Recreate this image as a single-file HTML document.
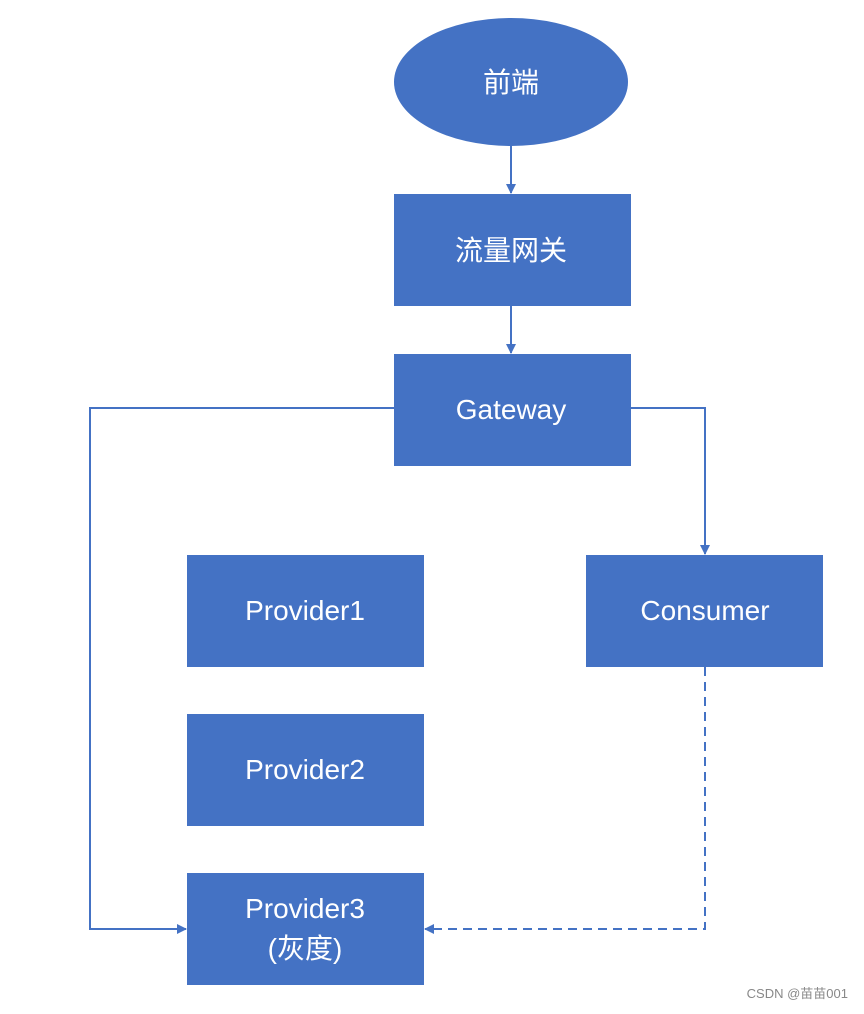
<!DOCTYPE html>
<html><head><meta charset="utf-8"><style>
html,body{margin:0;padding:0;background:#fff;}
svg text{font-family:"Liberation Sans","Noto Sans CJK SC",sans-serif;}
</style></head><body>
<svg width="864" height="1009" viewBox="0 0 864 1009" xmlns="http://www.w3.org/2000/svg">
<defs>
<marker id="a" markerWidth="10" markerHeight="10" refX="9" refY="5" orient="auto" markerUnits="userSpaceOnUse">
<path d="M0,0 L10,5 L0,10 z" fill="#4472C4"/></marker>
</defs>
<rect width="864" height="1009" fill="#fff"/>
<g fill="#4472C4">
<ellipse cx="511" cy="82" rx="117" ry="64"/>
<rect x="394" y="194" width="237" height="112"/>
<rect x="394" y="354" width="237" height="112"/>
<rect x="187" y="555" width="237" height="112"/>
<rect x="586" y="555" width="237" height="112"/>
<rect x="187" y="714" width="237" height="112"/>
<rect x="187" y="873" width="237" height="112"/>
</g>
<g stroke="#4472C4" stroke-width="2" fill="none">
<line x1="511" y1="146" x2="511" y2="193" marker-end="url(#a)"/>
<line x1="511" y1="306" x2="511" y2="353" marker-end="url(#a)"/>
<polyline points="394,408 90,408 90,929 186,929" marker-end="url(#a)"/>
<polyline points="631,408 705,408 705,554" marker-end="url(#a)"/>
<polyline points="705,667 705,929 425,929" stroke-dasharray="9,6" marker-end="url(#a)"/>
</g>
<g fill="#fff" font-size="28" text-anchor="middle">
<text x="511" y="92">前端</text>
<text x="511" y="260">流量网关</text>
<text x="511" y="419">Gateway</text>
<text x="305" y="620">Provider1</text>
<text x="705" y="620">Consumer</text>
<text x="305" y="779">Provider2</text>
<text x="305" y="918">Provider3</text>
<text x="305" y="958">(灰度)</text>
</g>
<text x="848" y="998" font-size="13" fill="#888" text-anchor="end">CSDN @苗苗001</text>
</svg>
</body></html>
